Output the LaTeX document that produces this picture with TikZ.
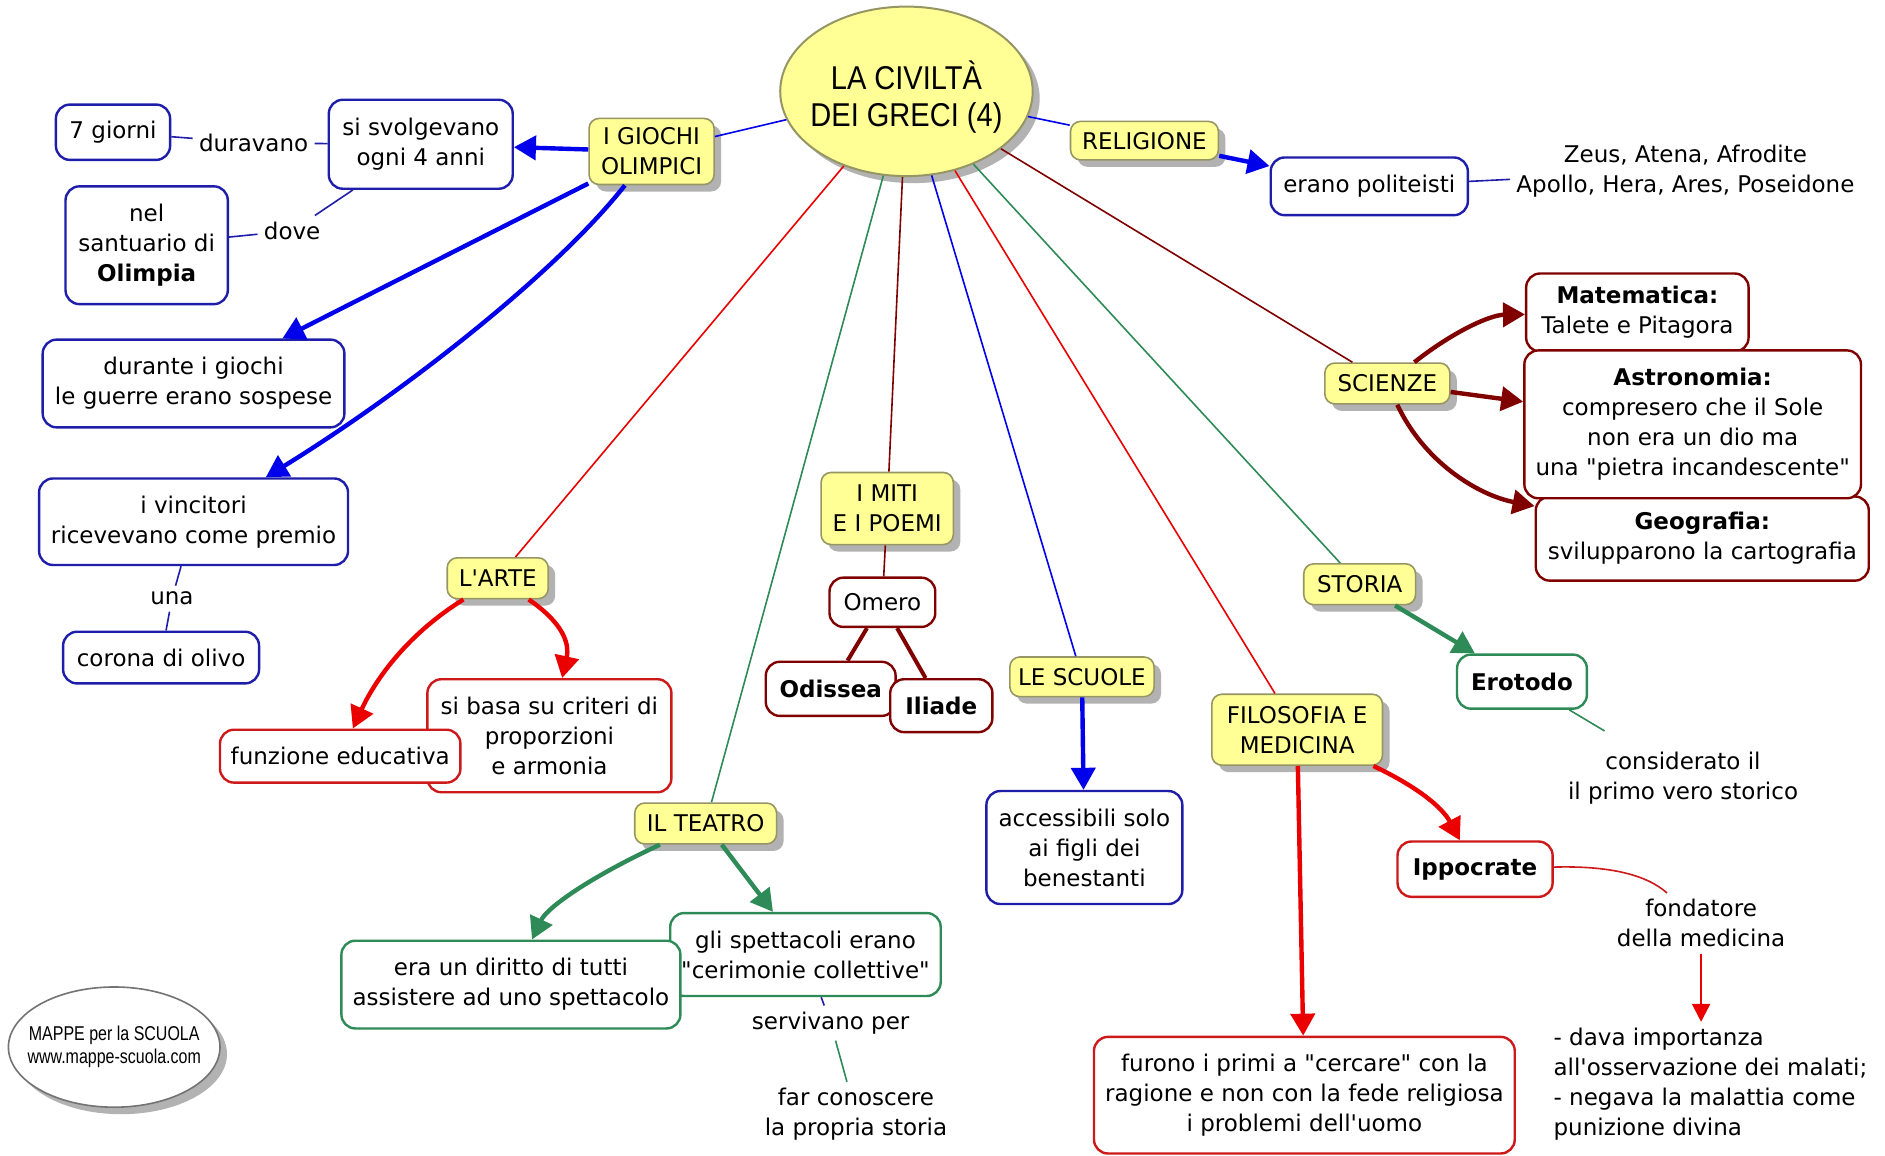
\documentclass[tikz,border=0pt]{standalone}
\usepackage{fontspec}
\setmainfont{DejaVu Sans}[Ligatures=TeXOff]
\newfontfamily\titlefont[FakeStretch=0.88]{Liberation Sans}
\newfontfamily\logofont[FakeStretch=0.8]{Liberation Sans}
\usetikzlibrary{arrows.meta,shapes.geometric,shadows}
\definecolor{cyel}{RGB}{255,255,150}
\definecolor{cyelb}{RGB}{150,150,100}
\definecolor{cblue}{RGB}{0,0,235}
\definecolor{cbbox}{RGB}{30,30,170}
\definecolor{cdred}{RGB}{128,0,0}
\definecolor{cred}{RGB}{235,0,0}
\definecolor{crbox}{RGB}{205,25,25}
\definecolor{cgreen}{RGB}{46,139,87}
\tikzset{
  sz/.style 2 args={minimum width=#1*0.6011pt, minimum height=#2*0.6011pt},
  txt/.style={font=\fontsize{11.5}{15}\selectfont, align=center, inner sep=1.5pt},
  shad/.style={drop shadow={fill=black!30, opacity=1, shadow xshift=3.5pt, shadow yshift=-3.5pt}},
  concept/.style={txt, rectangle, rounded corners=5pt, fill=cyel, draw=cyelb, line width=0.8pt, shad},
  box/.style={txt, rectangle, rounded corners=7pt, fill=white, line width=1.2pt},
  bbox/.style={box, draw=cbbox},
  rbox/.style={box, draw=crbox},
  dbox/.style={box, draw=cdred},
  gbox/.style={box, draw=cgreen},
  lab/.style={txt, inner sep=3pt},
  thin/.style={line width=0.8pt},
  big/.style={line width=2.2pt, -{Triangle[length=11pt,width=12pt]}},
}
\begin{document}
\begin{tikzpicture}[x=0.6011pt,y=-0.6011pt]
\fill[white] (0,0) rectangle (1568,961);
\useasboundingbox (0,0) rectangle (1568,961);

% central topic
\node[ellipse, fill=cyel, draw=cyelb, line width=1pt, sz={210}{141}, inner sep=-12pt, align=center,
      font=\titlefont\fontsize{16.5}{18.5}\selectfont, shad] (main) at (754,76) {\rule{0pt}{20pt}LA CIVILTÀ\\DEI GRECI (4)};

% concepts
\node[concept, sz={104}{55}] (giochi) at (542,126) {I GIOCHI\\OLIMPICI};
\node[concept, sz={123}{32}] (relig) at (952,117) {RELIGIONE};
\node[concept, sz={104}{34}] (scienze) at (1154,319) {SCIENZE};
\node[concept, sz={93}{34}] (storia) at (1131,486) {STORIA};
\node[concept, sz={84}{34}] (arte) at (414,481) {L'ARTE};
\node[concept, sz={110}{60}] (miti) at (738,423) {I MITI\\E I POEMI};
\node[concept, sz={120}{33}] (scuole) at (900,563) {LE SCUOLE};
\node[concept, sz={142}{59}] (filo) at (1079,607) {FILOSOFIA E\\MEDICINA};
\node[concept, sz={118}{34}] (teatro) at (587,685) {IL TEATRO};

% blue boxes
\node[bbox, sz={95}{46}] (giorni) at (94,110) {7 giorni};
\node[bbox, sz={153}{74}] (svolg) at (350,120) {si svolgevano\\ogni 4 anni};
\node[bbox, sz={135}{98}] (santuario) at (122,204) {nel\\santuario di\\\textbf{Olimpia}};
\node[bbox, sz={251}{73}] (durante) at (161,319) {durante i giochi\\le guerre erano sospese};
\node[bbox, sz={257}{72}] (vinc) at (161,434) {i vincitori\\ricevevano come premio};
\node[bbox, sz={163}{43}] (corona) at (134,547) {corona di olivo};
\node[bbox, sz={164}{48}] (polit) at (1139,155) {erano politeisti};
\node[bbox, sz={163}{94}] (access) at (902,705) {accessibili solo\\ai figli dei\\benestanti};

% dark red boxes
\node[dbox, sz={185}{65}] (mate) at (1362,260) {\textbf{Matematica:}\\Talete e Pitagora};
\node[dbox, sz={277}{70}] (geo) at (1416,448) {\textbf{Geografia:}\\svilupparono la cartografia};
\node[dbox, sz={280}{123}] (astro) at (1408,353) {\textbf{Astronomia:}\\compresero che il Sole\\non era un dio ma\\una "pietra incandescente"};
\node[dbox, sz={88}{41}] (omero) at (734,501) {Omero};
\node[dbox, sz={108}{45}] (odissea) at (691,573) {\textbf{Odissea}};
\node[dbox, sz={85}{44}] (iliade) at (783,587) {\textbf{Iliade}};

% red boxes
\node[rbox, sz={203}{94}] (basa) at (457,612) {si basa su criteri di\\proporzioni\\e armonia};
\node[rbox, sz={200}{44}] (funz) at (283,629) {funzione educativa};
\node[rbox, sz={129}{46}] (ippo) at (1227,723) {\textbf{Ippocrate}};
\node[rbox, sz={350}{97}] (furono) at (1085,911) {furono i primi a "cercare" con la\\ragione e non con la fede religiosa\\i problemi dell'uomo};

% green boxes
\node[gbox, sz={108}{45}] (erotodo) at (1266,567) {\textbf{Erotodo}};
\node[gbox, sz={225}{69}] (spett) at (670,794) {gli spettacoli erano\\"cerimonie collettive"};
\node[gbox, sz={282}{73}] (diritto) at (425,819) {era un diritto di tutti\\assistere ad uno spettacolo};

% labels
\node[lab] (durav) at (211,119) {duravano};
\node[lab] (dove) at (243,192) {dove};
\node[lab] (una) at (143,498) {una};
\node[lab] (zeus) at (1402,142) {Zeus, Atena, Afrodite\\Apollo, Hera, Ares, Poseidone};
\node[lab] (consid) at (1400,647) {considerato il\\il primo vero storico};
\node[lab] (fond) at (1415,768) {fondatore\\della medicina};
\node[lab] (serv) at (691,851) {servivano per};
\node[lab] (farcon) at (712,927) {far conoscere\\la propria storia};
\node[lab, align=left, anchor=west] (dava) at (1287,902) {- dava importanza\\all'osservazione dei malati;\\- negava la malattia come\\punizione divina};

% logo
\node[ellipse, draw=black!55, fill=white, line width=0.8pt, sz={176}{100}, inner sep=-6pt, shad,
      font=\logofont\fontsize{10}{11.5}\selectfont, align=center] (logo) at (95,871) {MAPPE per la SCUOLA\\www.mappe-scuola.com};

% lines from central topic
\draw[thin, cblue] (main) -- (giochi);
\draw[thin, cblue] (main) -- (relig);
\draw[thin, cred] (main) -- (arte);
\draw[thin, cgreen] (main) -- (teatro);
\draw[thin, cdred] (main) -- (miti);
\draw[thin, cblue] (main) -- (scuole);
\draw[thin, cred] (main) -- (filo);
\draw[thin, cgreen] (main) -- (storia);
\draw[thin, cdred] (main) -- (scienze);

% thin linking lines
\draw[thin, cbbox] (svolg) -- (durav);
\draw[thin, cbbox] (durav) -- (giorni);
\draw[thin, cbbox] (svolg) -- (dove);
\draw[thin, cbbox] (dove) -- (santuario);
\draw[thin, cbbox] (vinc) -- (una);
\draw[thin, cbbox] (una) -- (corona);
\draw[thin, cbbox] (polit) -- (zeus);
\draw[thin, cgreen, shorten >=14pt] (erotodo) -- (consid);
\draw[thin, cdred] (miti) -- (omero);
\draw[line width=2pt, cdred] (omero) -- (odissea);
\draw[line width=2pt, cdred] (omero) -- (iliade);
\draw[thin, cbbox] (spett) -- (serv);
\draw[thin, cgreen] (serv) -- (farcon);
\draw[thin, crbox] (ippo) .. controls (1340,720) and (1370,728) .. (fond);

% arrows
\draw[big, cblue] (giochi) -- (svolg);
\draw[big, cblue] (giochi) -- (durante);
\draw[big, cblue] (giochi) .. controls (460,230) and (330,330) .. (vinc);
\draw[big, cblue] (relig) -- (polit);
\draw[big, cdred] (scienze) .. controls (1210,275) and (1240,262) .. (mate);
\draw[big, cdred] (scienze) -- (astro);
\draw[big, cdred] (scienze) .. controls (1185,385) and (1230,412) .. (geo);
\draw[big, cgreen] (storia) -- (erotodo);
\draw[big, cred] (arte) .. controls (335,530) and (310,570) .. (funz);
\draw[big, cred] (arte) .. controls (468,518) and (474,535) .. (basa);
\draw[big, cblue] (scuole) -- (access);
\draw[big, cred] (filo) -- (furono);
\draw[big, cred] (filo) .. controls (1180,655) and (1200,672) .. (ippo);
\draw[big, cgreen] (teatro) .. controls (490,730) and (455,755) .. (diritto);
\draw[big, cgreen] (teatro) -- (spett);
\draw[line width=1.2pt, cred, -{Triangle[length=9pt,width=9pt]}] (fond) -- (fond |- dava.north);
\end{tikzpicture}
\end{document}
